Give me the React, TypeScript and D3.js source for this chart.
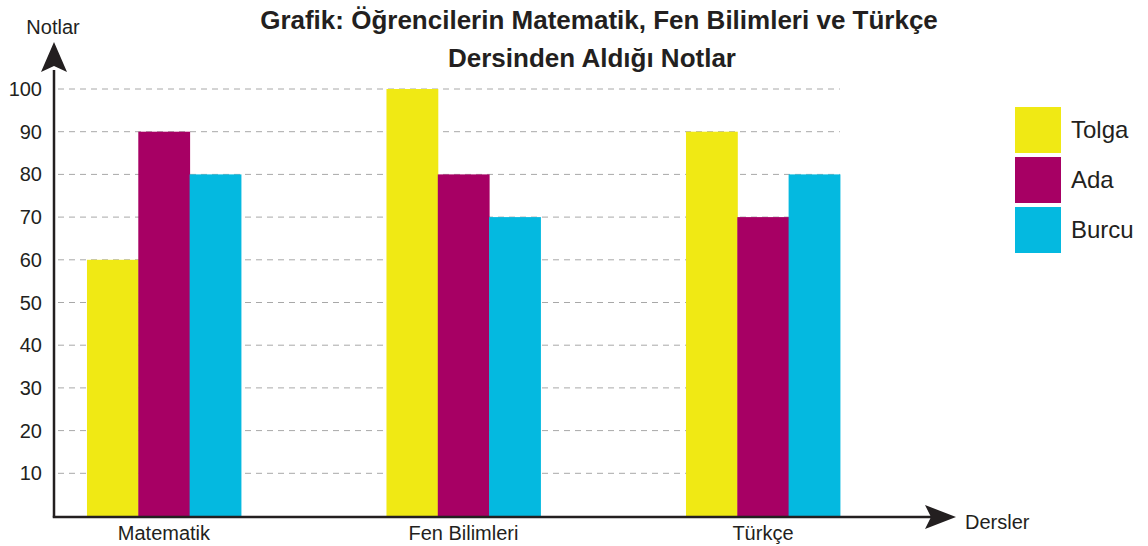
import React from "react";
import * as d3 from "d3";

const categories = ["Matematik", "Fen Bilimleri", "Türkçe"];
const seriesNames = ["Tolga", "Ada", "Burcu"];
const tolga = [60, 100, 90];
const ada = [90, 80, 70];
const burcu = [80, 70, 80];
const yTicks = [10, 20, 30, 40, 50, 60, 70, 80, 90, 100];
const colors = ["#f0e914", "#a70064", "#04b9e0"];

const W = 1148;
const H = 546;
const FONT = "'Liberation Sans', Arial, Helvetica, sans-serif";
const INK = "#231f20";

export default function App() {
  const values = [tolga, ada, burcu];
  const axisX = 54;
  const x = d3
    .scaleBand<string>()
    .domain(categories)
    .range([14.2, 912.7])
    .paddingInner(0.486)
    .paddingOuter(0.243);
  const xs = d3.scaleBand<string>().domain(seriesNames).range([0, x.bandwidth()]).padding(0);
  const y = d3.scaleLinear().domain([0, 100]).range([516, 89]);
  const base = y(0);
  const gridEnd = (x(categories[categories.length - 1]) ?? 0) + x.bandwidth();

  return (
    <svg
      width={W}
      height={H}
      style={{ position: "absolute", left: 0, top: 0, background: "#fff" }}
      fontFamily={FONT}
    >
      {/* title */}
      <text x={599} y={29} textAnchor="middle" fontSize={26} fontWeight="bold" fill={INK}>
        Grafik: Öğrencilerin Matematik, Fen Bilimleri ve Türkçe
      </text>
      <text x={592} y={67} textAnchor="middle" fontSize={26} fontWeight="bold" fill={INK}>
        Dersinden Aldığı Notlar
      </text>

      {/* gridlines */}
      {yTicks.map((t) => (
        <line
          key={"g" + t}
          x1={axisX + 4}
          x2={gridEnd}
          y1={y(t)}
          y2={y(t)}
          stroke="#a8a8a8"
          strokeWidth={1}
          strokeDasharray="6,5"
        />
      ))}

      {/* bars */}
      {categories.map((c, ci) => (
        <g key={c} transform={`translate(${x(c)},0)`}>
          {seriesNames.map((s, si) => (
            <rect
              key={s}
              x={xs(s)}
              y={y(values[si][ci])}
              width={xs.bandwidth() + 0.5}
              height={base - y(values[si][ci])}
              fill={colors[si]}
            />
          ))}
        </g>
      ))}

      {/* y tick labels */}
      {yTicks.map((t) => (
        <text key={"t" + t} x={42} y={y(t)} dy="0.35em" textAnchor="end" fontSize={20} fill={INK}>
          {t}
        </text>
      ))}

      {/* axes */}
      <line x1={axisX} x2={axisX} y1={base + 1.5} y2={70} stroke={INK} strokeWidth={2.5} />
      <path d={`M${axisX},42 L${axisX + 13},72 L${axisX},66 L${axisX - 13},72 Z`} fill={INK} />
      <line x1={axisX - 1.2} x2={935} y1={base + 1} y2={base + 1} stroke={INK} strokeWidth={2.5} />
      <path d={`M956,${base + 1} L925,${base - 11} L931,${base + 1} L925,${base + 13} Z`} fill={INK} />

      {/* axis titles */}
      <text x={53} y={34} textAnchor="middle" fontSize={20} fill={INK}>
        Notlar
      </text>
      <text x={965} y={529} fontSize={20} fill={INK}>
        Dersler
      </text>

      {/* category labels */}
      {categories.map((c) => (
        <text
          key={"c" + c}
          x={(x(c) ?? 0) + x.bandwidth() / 2}
          y={540}
          textAnchor="middle"
          fontSize={20}
          fill={INK}
        >
          {c}
        </text>
      ))}

      {/* legend */}
      {seriesNames.map((s, i) => (
        <g key={"l" + s} transform={`translate(1015,${107 + i * 50})`}>
          <rect width={46} height={46} fill={colors[i]} />
          <text x={56} y={23} dy="0.35em" fontSize={24} fill={INK}>
            {s}
          </text>
        </g>
      ))}
    </svg>
  );
}
